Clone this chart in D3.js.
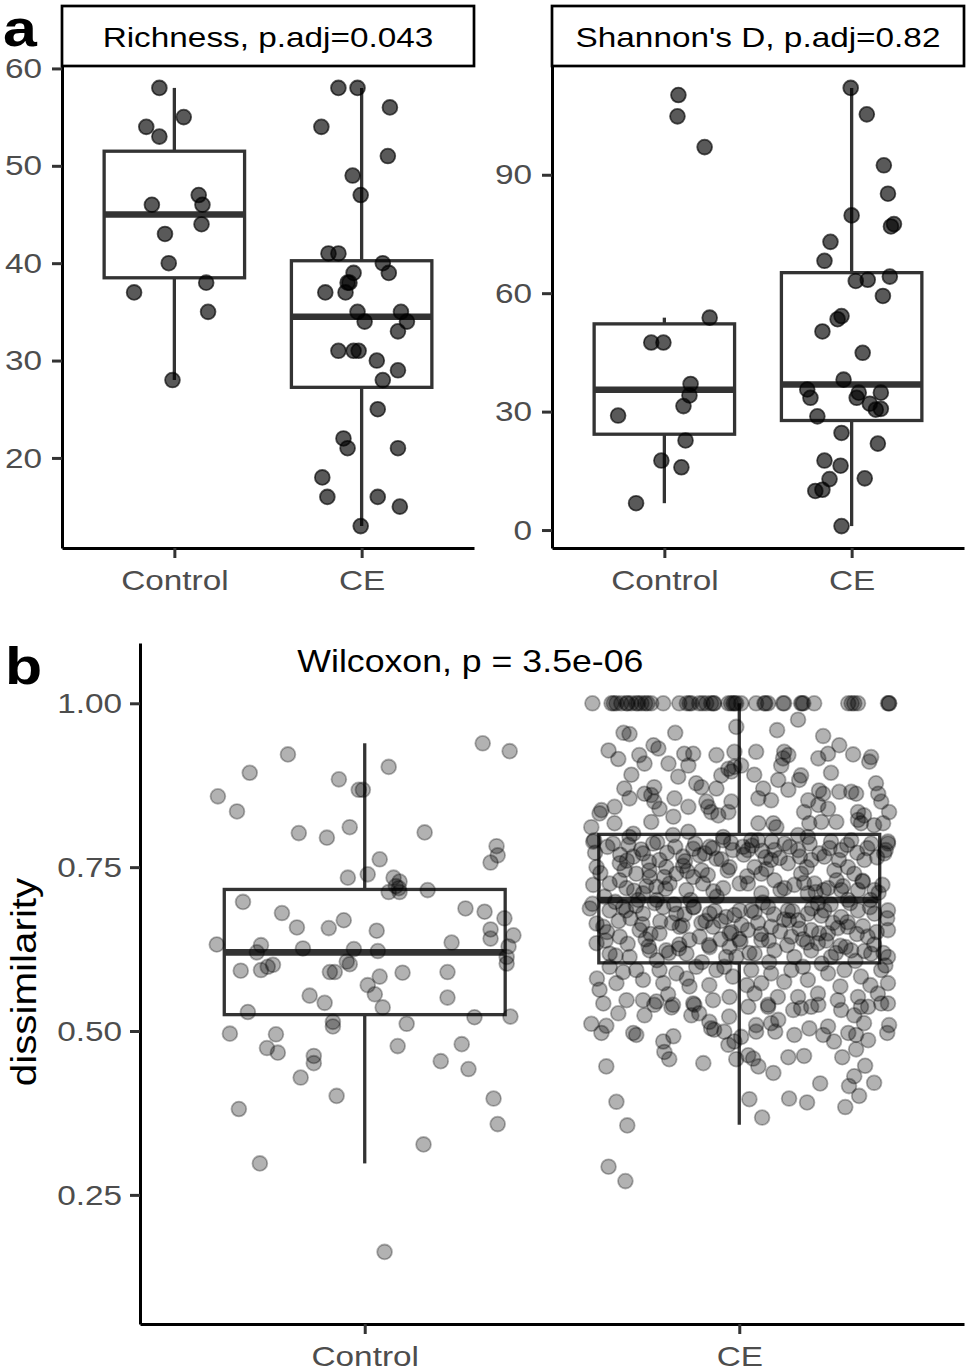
<!DOCTYPE html>
<html>
<head>
<meta charset="utf-8">
<script src="https://cdn.jsdelivr.net/npm/d3@7"></script>
<style>
	body { margin: 0; background: #fff; }
	text { font-family: "Liberation Sans", Arial, sans-serif; }
</style>
</head>
<body>
<div id="chart"></div>
<script>
/* global d3 */

//	BEGIN data

var groups = ["Control", "CE"];
var facetTitles = ["Richness, p.adj=0.043", "Shannon's D, p.adj=0.82"];
var testLabel = "Wilcoxon, p = 3.5e-06";

// [jitter offset in category units, value]
var richnessControl = [[-0.08,58],[0.05,55],[-0.15,54],[-0.08,53],[0.13,47],[-0.12,46],[0.15,46],[0.145,44],[-0.05,43],[-0.03,40],[0.17,38],[-0.215,37],[0.18,35],[-0.01,28]];
var richnessCE = [[-0.124,58],[-0.022,58],[0.151,56],[-0.215,54],[0.140,51],[-0.048,49],[-0.005,47],[-0.177,41],[-0.124,41],[0.113,40],[0.145,39],[-0.043,39],[-0.075,38],[-0.065,38],[-0.194,37],[-0.086,37],[-0.022,35],[0.210,35],[0.016,34],[0.242,34],[0.194,33],[-0.124,31],[-0.043,31],[-0.016,31],[0.081,30],[0.194,29],[0.113,28],[0.086,25],[-0.097,22],[-0.075,21],[0.194,21],[-0.210,18],[-0.183,16],[0.086,16],[0.204,15],[-0.005,13]];

var shannonControl = [[0.075,110.2],[0.070,104.8],[0.215,97.0],[0.242,53.8],[-0.070,47.5],[-0.005,47.5],[0.140,37.0],[0.134,34.1],[0.102,31.4],[-0.247,29.0],[0.113,22.7],[-0.016,17.6],[0.091,15.9],[-0.151,6.8]];
var shannonCE = [[-0.005,112.0],[0.081,105.3],[0.172,92.4],[0.194,85.2],[0,79.7],[0.226,77.5],[0.210,76.9],[-0.113,73.0],[-0.145,68.2],[0.204,64.2],[0.022,63.1],[0.086,63.4],[0.167,59.3],[-0.054,54.2],[-0.075,53.4],[-0.156,50.3],[0.059,44.9],[-0.043,38.1],[-0.237,35.6],[-0.220,33.5],[0.038,34.8],[0.027,33.5],[0.156,34.8],[0.097,32.0],[0.129,30.5],[0.156,30.7],[-0.183,28.8],[-0.054,24.6],[0.140,21.9],[-0.145,17.6],[-0.059,16.3],[-0.118,12.9],[0.070,13.1],[-0.194,9.9],[-0.156,10.2],[-0.054,1.0]];

var dissimControl = [[0.315,0.939],[0.387,0.927],[-0.205,0.922],[-0.307,0.894],[0.064,0.903],[-0.069,0.884],[-0.016,0.868],[-0.005,0.868],[-0.392,0.858],[-0.341,0.835],[-0.176,0.802],[-0.101,0.795],[-0.040,0.811],[0.160,0.803],[0.352,0.782],[0.355,0.768],[0.336,0.757],[0.040,0.762],[0.008,0.739],[-0.045,0.734],[0.077,0.734],[0.093,0.728],[0.091,0.718],[0.083,0.721],[0.064,0.712],[0.093,0.712],[0.168,0.715],[-0.325,0.697],[-0.221,0.680],[0.269,0.687],[0.320,0.682],[0.373,0.672],[-0.056,0.669],[-0.181,0.658],[-0.096,0.657],[0.032,0.653],[0.336,0.655],[0.397,0.646],[0.336,0.641],[-0.395,0.632],[-0.277,0.631],[-0.288,0.620],[-0.165,0.626],[-0.029,0.625],[0.035,0.622],[0.232,0.635],[0.384,0.629],[0.379,0.613],[0.379,0.603],[-0.331,0.592],[-0.277,0.593],[-0.245,0.601],[-0.259,0.598],[-0.048,0.606],[-0.040,0.602],[-0.093,0.590],[-0.080,0.590],[0.040,0.583],[0.101,0.589],[0.221,0.590],[0.008,0.570],[-0.147,0.554],[0.221,0.551],[0.027,0.556],[-0.107,0.543],[0.048,0.536],[-0.312,0.529],[-0.085,0.514],[-0.085,0.507],[0.293,0.521],[0.389,0.522],[0.112,0.511],[-0.360,0.496],[-0.237,0.495],[-0.261,0.474],[-0.232,0.467],[0.088,0.477],[0.259,0.480],[-0.136,0.462],[-0.136,0.451],[0.203,0.454],[0.277,0.442],[-0.171,0.429],[-0.075,0.401],[0.344,0.397],[-0.336,0.381],[0.355,0.358],[0.157,0.327],[-0.280,0.298],[0.053,0.163]];

var dissimCE = [
	// pairs sitting on 1.00
	[-0.392,1],[-0.341,1],[-0.335,1],[-0.328,1],[-0.315,1],[-0.301,1],[-0.298,1],[-0.288,1],[-0.275,1],[-0.270,1],[-0.261,1],[-0.251,1],[-0.245,1],[-0.235,1],[-0.203,1],[-0.160,1],[-0.140,1],[-0.133,1],[-0.128,1],[-0.107,1],[-0.098,1],[-0.088,1],[-0.075,1],[-0.069,1],[-0.067,1],[-0.029,1],[-0.022,1],[-0.016,1],[-0.012,1],[-0.008,1],[0.005,1],[0.045,1],[0.067,1],[0.070,1],[0.077,1],[0.117,1],[0.120,1],[0.165,1],[0.168,1],[0.171,1],[0.200,1],[0.291,1],[0.300,1],[0.307,1],[0.317,1],[0.397,1],[0.400,1],[0.400,1],
	// upper cloud
	[0.157,0.975],[-0.008,0.964],[-0.309,0.955],[-0.293,0.953],[-0.171,0.955],[0.101,0.959],[0.224,0.950],[-0.349,0.928],[-0.323,0.915],[-0.267,0.921],[-0.229,0.936],[-0.216,0.931],[-0.253,0.908],[-0.189,0.908],[-0.147,0.923],[-0.123,0.923],[-0.136,0.905],[-0.061,0.921],[-0.013,0.926],[0.045,0.926],[0.120,0.926],[0.131,0.921],[0.117,0.916],[0.112,0.905],[-0.029,0.900],[-0.013,0.903],[-0.021,0.896],[0.005,0.905],[0.211,0.916],[0.237,0.923],[0.267,0.936],[0.304,0.922],[0.352,0.918],[0.347,0.911],[0.245,0.894],[-0.288,0.891],[-0.163,0.888],[-0.048,0.890],[0.040,0.891],[0.104,0.883],[0.165,0.890],[0.160,0.883],[-0.307,0.870],[-0.227,0.872],[-0.115,0.878],[-0.101,0.872],[-0.061,0.870],[0.064,0.870],[0.131,0.868],[0.213,0.867],[0.224,0.862],[0.267,0.865],[0.299,0.865],[0.312,0.862],[0.365,0.878],[0.371,0.862],[-0.293,0.855],[-0.253,0.862],[-0.235,0.860],[-0.227,0.850],[-0.173,0.855],[-0.136,0.842],[-0.088,0.850],[-0.083,0.842],[-0.075,0.834],[-0.021,0.850],[0.051,0.855],[0.085,0.852],[0.184,0.852],[0.211,0.845],[0.237,0.839],[0.379,0.850],[-0.368,0.837],[-0.373,0.832],[-0.333,0.842],[-0.213,0.839],[-0.056,0.829],[-0.029,0.834],[0.173,0.834],[0.317,0.834],[0.333,0.829],[0.400,0.834],[-0.395,0.811],[-0.333,0.817],[-0.235,0.819],[-0.176,0.827],[0.051,0.817],[0.091,0.817],[0.099,0.811],[0.187,0.817],[0.219,0.819],[0.259,0.819],[0.317,0.822],[0.325,0.817],[0.360,0.814],[0.384,0.817],[-0.387,0.791],[-0.283,0.801],[-0.136,0.804],[-0.043,0.796],[0.032,0.791],[0.157,0.799],[0.397,0.789],
	// dense middle, left half
	[-0.390,0.789],[-0.337,0.786],[-0.293,0.796],[-0.230,0.786],[-0.177,0.799],[-0.123,0.778],[-0.079,0.781],[-0.043,0.791],[-0.017,0.776],[0.010,0.781],[-0.381,0.750],[-0.319,0.756],[-0.283,0.766],[-0.257,0.771],[-0.213,0.761],[-0.195,0.750],[-0.150,0.766],[-0.106,0.768],[-0.061,0.763],[-0.026,0.750],[-0.319,0.730],[-0.275,0.740],[-0.239,0.735],[-0.168,0.740],[-0.123,0.735],[-0.390,0.723],[-0.346,0.725],[-0.301,0.718],[-0.221,0.720],[-0.186,0.725],[-0.141,0.715],[-0.097,0.725],[-0.043,0.718],[0.001,0.725],[-0.257,0.710],[-0.399,0.687],[-0.346,0.684],[-0.310,0.689],[-0.257,0.679],[-0.203,0.689],[-0.168,0.679],[-0.123,0.689],[-0.079,0.679],[-0.035,0.674],[0.001,0.684],[-0.363,0.659],[-0.319,0.644],[-0.266,0.654],[-0.213,0.649],[-0.159,0.659],[-0.106,0.644],[-0.070,0.659],[-0.026,0.649],[-0.381,0.634],[-0.346,0.618],[-0.293,0.613],[-0.239,0.623],[-0.195,0.623],[-0.141,0.618],[-0.079,0.628],[-0.035,0.613],[-0.008,0.613],[-0.346,0.598],[-0.275,0.593],[-0.213,0.593],[-0.168,0.588],[-0.115,0.598],[-0.061,0.593],[-0.017,0.583],[-0.328,0.573],[-0.257,0.578],[-0.203,0.573],[-0.133,0.568],[-0.373,0.563],[-0.301,0.547],[-0.257,0.547],[-0.221,0.545],[-0.177,0.540],[-0.123,0.542],[-0.070,0.547],[-0.026,0.552],[-0.363,0.542],
	[-0.300,0.760],[-0.240,0.745],[-0.200,0.735],[-0.150,0.752],[-0.100,0.745],[-0.270,0.700],[-0.220,0.700],[-0.130,0.700],[-0.060,0.705],[-0.360,0.705],[-0.180,0.665],[-0.090,0.668],[-0.290,0.672],[-0.050,0.640],[-0.160,0.632],[-0.250,0.640],[-0.330,0.615],[-0.100,0.605],[-0.220,0.608],[-0.040,0.598],[-0.310,0.590],[-0.140,0.580],[-0.080,0.570],[-0.380,0.580],[-0.190,0.556],
	// dense middle, right half
	[0.050,0.791],[0.121,0.786],[0.183,0.796],[0.245,0.789],[0.299,0.791],[0.352,0.786],[0.397,0.786],[0.023,0.776],[0.094,0.776],[0.157,0.776],[0.272,0.776],[0.041,0.750],[0.085,0.761],[0.130,0.756],[0.192,0.761],[0.227,0.766],[0.290,0.750],[0.334,0.761],[0.387,0.771],[0.059,0.740],[0.165,0.740],[0.254,0.745],[0.307,0.740],[0.023,0.725],[0.094,0.730],[0.147,0.723],[0.201,0.725],[0.237,0.718],[0.272,0.715],[0.317,0.715],[0.361,0.715],[0.059,0.710],[0.183,0.710],[0.032,0.684],[0.077,0.689],[0.130,0.684],[0.183,0.679],[0.227,0.684],[0.272,0.674],[0.317,0.684],[0.361,0.679],[0.397,0.684],[0.157,0.669],[0.023,0.654],[0.085,0.659],[0.139,0.644],[0.192,0.654],[0.237,0.649],[0.290,0.659],[0.343,0.644],[0.397,0.654],[0.059,0.639],[0.210,0.634],[0.041,0.618],[0.094,0.623],[0.147,0.613],[0.192,0.623],[0.245,0.613],[0.299,0.623],[0.352,0.618],[0.397,0.613],[0.032,0.593],[0.085,0.588],[0.139,0.593],[0.183,0.578],[0.237,0.588],[0.281,0.593],[0.325,0.583],[0.379,0.593],[0.397,0.573],[0.059,0.573],[0.041,0.557],[0.103,0.552],[0.157,0.552],[0.210,0.557],[0.263,0.547],[0.317,0.552],[0.370,0.557],[0.397,0.542],[0.077,0.537],
	[0.070,0.765],[0.180,0.750],[0.260,0.730],[0.330,0.728],[0.110,0.715],[0.210,0.695],[0.290,0.700],[0.350,0.700],[0.050,0.665],[0.120,0.670],[0.250,0.665],[0.330,0.660],[0.170,0.640],[0.270,0.630],[0.360,0.632],[0.080,0.605],[0.220,0.603],[0.310,0.607],[0.120,0.575],[0.270,0.568],[0.350,0.570],[0.020,0.570],[0.170,0.598],[0.390,0.600],[0.000,0.640],
	// dense middle, across the box
	[-0.385,0.772],[-0.352,0.781],[-0.318,0.769],[-0.296,0.784],[-0.262,0.777],[-0.241,0.758],[-0.219,0.788],[-0.193,0.772],[-0.171,0.781],[-0.145,0.759],[-0.118,0.786],[-0.092,0.771],[-0.071,0.779],[-0.048,0.762],[-0.022,0.787],[0.012,0.769],[0.034,0.783],[0.061,0.775],[0.087,0.789],[0.108,0.764],[0.135,0.781],[0.162,0.766],[0.188,0.786],[0.214,0.771],[0.241,0.779],[0.266,0.761],[0.288,0.784],[0.315,0.772],[0.342,0.779],[0.368,0.765],[0.391,0.776],
	[-0.371,0.741],[-0.306,0.746],[-0.248,0.721],[-0.197,0.717],[-0.139,0.744],[-0.084,0.738],[-0.031,0.745],[0.021,0.736],[0.072,0.747],[0.121,0.718],[0.173,0.726],[0.226,0.715],[0.277,0.721],[0.329,0.729],[0.382,0.723],[-0.281,0.714],[-0.069,0.713],[0.204,0.712],[0.372,0.711],
	[-0.392,0.694],[-0.331,0.697],[-0.276,0.691],[-0.226,0.695],[-0.174,0.693],[-0.121,0.689],[-0.066,0.683],[-0.013,0.677],[0.041,0.681],[0.092,0.678],[0.142,0.683],[0.194,0.687],[0.244,0.693],[0.296,0.695],[0.349,0.689],[0.395,0.672],[-0.146,0.678],[0.219,0.676],[-0.302,0.684],[0.063,0.696],
	[-0.381,0.664],[-0.322,0.668],[-0.259,0.663],[-0.211,0.667],[-0.152,0.661],[-0.101,0.665],[-0.049,0.668],[0.006,0.662],[0.058,0.648],[0.109,0.652],[0.161,0.656],[0.213,0.649],[0.263,0.657],[0.314,0.648],[0.367,0.651],[-0.237,0.648],[-0.021,0.651],[0.133,0.669],[0.289,0.666],[-0.353,0.651],
	[-0.357,0.638],[-0.298,0.633],[-0.242,0.629],[-0.188,0.619],[-0.133,0.639],[-0.081,0.631],[-0.026,0.628],[0.027,0.619],[0.079,0.638],[0.128,0.631],[0.181,0.635],[0.232,0.638],[0.284,0.628],[0.334,0.622],[0.385,0.619],[-0.161,0.626],[0.003,0.636],[0.258,0.619],
	// lower tail
	[-0.395,0.511],[-0.368,0.497],[-0.355,0.508],[-0.323,0.527],[-0.283,0.497],[-0.275,0.494],[-0.253,0.524],[-0.227,0.540],[-0.181,0.536],[-0.203,0.484],[-0.200,0.468],[-0.187,0.457],[-0.176,0.492],[-0.128,0.524],[-0.120,0.540],[-0.107,0.527],[-0.080,0.514],[-0.075,0.504],[-0.067,0.502],[-0.040,0.499],[-0.027,0.522],[-0.029,0.479],[-0.013,0.484],[0.005,0.491],[-0.008,0.457],[0.024,0.463],[0.037,0.458],[0.045,0.509],[0.045,0.499],[0.051,0.446],[0.024,0.537],[0.077,0.540],[0.085,0.512],[0.096,0.499],[0.104,0.517],[0.091,0.436],[0.144,0.532],[0.147,0.494],[0.187,0.504],[0.165,0.535],[0.192,0.537],[0.211,0.540],[0.131,0.460],[0.173,0.462],[0.224,0.494],[0.237,0.507],[0.253,0.484],[0.272,0.532],[0.291,0.497],[0.307,0.524],[0.312,0.494],[0.333,0.512],[0.325,0.537],[0.344,0.537],[0.344,0.486],[0.312,0.472],[0.275,0.460],[0.400,0.509],[0.395,0.497],[0.379,0.542],[-0.355,0.446],[-0.096,0.451],[-0.328,0.392],[-0.299,0.356],[-0.349,0.293],[-0.304,0.271],[0.027,0.396],[0.061,0.368],[0.133,0.397],[0.181,0.391],[0.216,0.420],[0.307,0.431],[0.293,0.416],[0.336,0.447],[0.320,0.401],[0.360,0.421],[0.283,0.384]
];

// box statistics for panel b: [lower whisker, q1, median, q3, upper whisker]
var dissimBox = [[0.298,0.525,0.620,0.716,0.939],[0.357,0.604,0.700,0.800,1.000]];

var richnessTicks = [20,30,40,50,60];
var shannonTicks = [0,30,60,90];
var dissimTicks = [0.25,0.50,0.75,1.00];
var dissimLimits = [0.053,1.092];

//	END data

var SX = 1.17; // the figure's type is set wider than Liberation Sans
var svg = d3.select("#chart")
	.append("svg")
	.attr("width", 968)
	.attr("height", 1371)
	.style("background", "#fff");

function addText(sel, str, x, y, o) {
	o = o || {};
	return sel.append("text")
		.attr("transform", "translate(" + x + "," + y + ")" + (o.rotate ? " rotate(" + o.rotate + ")" : "") + " scale(" + SX + ",1)")
		.attr("text-anchor", o.anchor || "middle")
		.attr("font-size", o.size || 28.5)
		.attr("font-weight", o.weight || null)
		.attr("fill", o.fill || "#000")
		.text(str);
}

function styleAxis(g) {
	g.attr("font-size", 28.5).attr("font-family", "Liberation Sans, Arial, sans-serif");
	g.select(".domain").attr("stroke", "#000").attr("stroke-width", 3);
	g.selectAll(".tick line").attr("stroke", "#333").attr("stroke-width", 3);
	g.selectAll(".tick text").attr("fill", "#4d4d4d").each(function() {
		var t = d3.select(this);
		var x = +t.attr("x") || 0, y = +t.attr("y") || 0;
		t.attr("x", null).attr("y", null)
			.attr("transform", "translate(" + x + "," + y + ") scale(" + SX + ",1)");
	});
}

// ggplot style box stats (type 7 quantiles, 1.5 IQR whiskers)
function boxStats(vals) {
	var v = vals.slice().sort(d3.ascending);
	var q1 = d3.quantileSorted(v, 0.25), med = d3.quantileSorted(v, 0.5), q3 = d3.quantileSorted(v, 0.75);
	var iqr = q3 - q1;
	var lo = d3.min(v.filter(function(d) { return d >= q1 - 1.5 * iqr; }));
	var hi = d3.max(v.filter(function(d) { return d <= q3 + 1.5 * iqr; }));
	return [lo, q1, med, q3, hi];
}

function drawBox(g, cx, y, s, halfW) {
	var col = "#333";
	g.append("line").attr("x1", cx).attr("x2", cx).attr("y1", y(s[0])).attr("y2", y(s[1]))
		.attr("stroke", col).attr("stroke-width", 3.3);
	g.append("line").attr("x1", cx).attr("x2", cx).attr("y1", y(s[3])).attr("y2", y(s[4]))
		.attr("stroke", col).attr("stroke-width", 3.3);
	g.append("rect").attr("x", cx - halfW).attr("width", 2 * halfW)
		.attr("y", y(s[3])).attr("height", y(s[1]) - y(s[3]))
		.attr("fill", "#fff").attr("stroke", col).attr("stroke-width", 3.3);
	g.append("line").attr("x1", cx - halfW).attr("x2", cx + halfW).attr("y1", y(s[2])).attr("y2", y(s[2]))
		.attr("stroke", col).attr("stroke-width", 6.6);
}

function drawPoints(g, pts, cx, step, y, alpha) {
	g.selectAll(null)
		.data(pts)
		.enter().append("circle")
		.attr("cx", function(d) { return cx + d[0] * step; })
		.attr("cy", function(d) { return y(d[1]); })
		.attr("r", 7.4)
		.attr("fill", "#000").attr("fill-opacity", alpha)
		.attr("stroke", "#000").attr("stroke-opacity", alpha)
		.attr("stroke-width", 1.8);
}

//	BEGIN panel a

var facets = [
	{ title: facetTitles[0], data: [richnessControl, richnessCE], ticks: richnessTicks, x0: 62, x1: 474 },
	{ title: facetTitles[1], data: [shannonControl, shannonCE], ticks: shannonTicks, x0: 552, x1: 964 }
];

facets.forEach(function(f) {
	var g = svg.append("g");
	var all = f.data[0].concat(f.data[1]).map(function(d) { return d[1]; });
	var ext = d3.extent(all), pad = (ext[1] - ext[0]) * 0.05;
	var y = d3.scaleLinear().domain([ext[0] - pad, ext[1] + pad]).range([548, 66]);
	var x = d3.scalePoint().domain(groups).range([f.x0, f.x1]).padding(0.6);
	var step = x.step();

	// strip
	g.append("rect").attr("x", f.x0).attr("y", 6).attr("width", f.x1 - f.x0).attr("height", 60)
		.attr("fill", "#fff").attr("stroke", "#000").attr("stroke-width", 2.7);
	addText(g, f.title, (f.x0 + f.x1) / 2, 47);

	groups.forEach(function(grp, i) {
		drawBox(g, x(grp), y, boxStats(f.data[i].map(function(d) { return d[1]; })), 0.375 * step);
	});
	groups.forEach(function(grp, i) {
		drawPoints(g, f.data[i], x(grp), step, y, 0.65);
	});

	var ya = g.append("g").attr("transform", "translate(" + f.x0 + ",0)")
		.call(d3.axisLeft(y).tickValues(f.ticks).tickSize(10).tickSizeOuter(0).tickPadding(10));
	styleAxis(ya);
	var xa = g.append("g").attr("transform", "translate(0,548)")
		.call(d3.axisBottom(x).tickSize(10).tickSizeOuter(0).tickPadding(12));
	styleAxis(xa);
});

addText(svg, "a", 3, 46, { anchor: "start", size: 52, weight: "bold" });

//	END panel a

//	BEGIN panel b

var gb = svg.append("g");
var yb = d3.scaleLinear().domain(dissimLimits).range([1324, 643]);
var xb = d3.scalePoint().domain(groups).range([140, 964]).padding(0.6);
var stepB = xb.step();

[dissimControl, dissimCE].forEach(function(pts, i) {
	drawBox(gb, xb(groups[i]), yb, dissimBox[i], 0.375 * stepB);
});
[dissimControl, dissimCE].forEach(function(pts, i) {
	drawPoints(gb, pts, xb(groups[i]), stepB, yb, 0.3);
});

var yba = gb.append("g").attr("transform", "translate(140,0)")
	.call(d3.axisLeft(yb).tickValues(dissimTicks).tickFormat(d3.format(".2f")).tickSize(10).tickSizeOuter(0).tickPadding(8));
styleAxis(yba);
var xba = gb.append("g").attr("transform", "translate(0,1324)")
	.call(d3.axisBottom(xb).tickSize(10).tickSizeOuter(0).tickPadding(12));
styleAxis(xba);

addText(gb, "dissimilarity", 36, 982, { rotate: -90, size: 34.5 });
addText(gb, testLabel, xb(groups[0]) - 0.18 * stepB, yb(1.047), { anchor: "start", size: 30.5 });
addText(svg, "b", 5, 684, { anchor: "start", size: 52, weight: "bold" });

//	END panel b
</script>
</body>
</html>
